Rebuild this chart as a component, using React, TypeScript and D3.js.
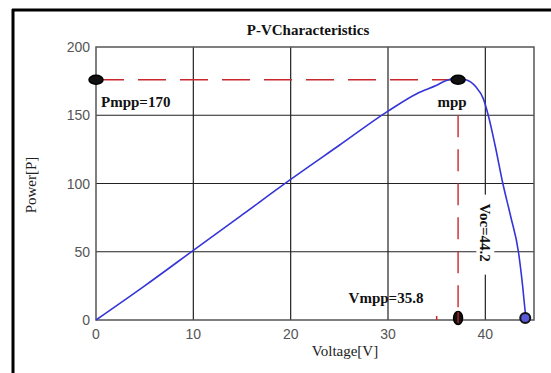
import { useRef, useEffect } from "react";
import * as d3 from "d3";

// P-V curve
const voltage = [0, 5, 10, 15, 20, 25, 30, 33, 35, 36, 37, 38, 39, 39.8, 40.3, 41, 41.8, 42.6, 43.4, 43.8, 44.1, 44.2];
const power = [0, 25, 51, 77, 103, 128, 153, 166, 172, 175.5, 177, 176, 171, 162, 150, 128, 100, 76, 50, 27, 6, 0];

const xTicks = [0, 10, 20, 30, 40];
const yTicks = [0, 50, 100, 150, 200];
const gridX = [10, 20, 30, 40];
const gridY = [50, 100, 150];

const mppV = 37.2;
const mppP = 176;
const vocV = 44.1;

export default function App() {
  const svgRef = useRef<SVGSVGElement>(null);

  useEffect(() => {
    if (!svgRef.current) return;
    const svg = d3.select(svgRef.current);
    svg.selectAll("*").remove();

    const width = 551;
    const height = 373;
    const margin = { top: 47, right: 17, bottom: 53, left: 96 };

    const x = d3.scaleLinear().domain([0, 45]).range([margin.left, width - margin.right]);
    const y = d3.scaleLinear().domain([0, 200]).range([height - margin.bottom, margin.top]);

    svg.append("rect").attr("width", width).attr("height", height).attr("fill", "#fff");

    // outer frame (left + top thick)
    svg.append("line").attr("x1", 13).attr("x2", 13).attr("y1", 9).attr("y2", height)
      .attr("stroke", "#000").attr("stroke-width", 3);
    svg.append("line").attr("x1", 12).attr("x2", width).attr("y1", 10).attr("y2", 10)
      .attr("stroke", "#000").attr("stroke-width", 3);

    const g = svg.append("g");

    // grid
    gridX.forEach((v) => {
      g.append("line").attr("x1", x(v)).attr("x2", x(v)).attr("y1", y(200)).attr("y2", y(0))
        .attr("stroke", "#222").attr("stroke-width", 1.2);
    });
    gridY.forEach((v) => {
      g.append("line").attr("x1", x(0)).attr("x2", x(45)).attr("y1", y(v)).attr("y2", y(v))
        .attr("stroke", "#222").attr("stroke-width", 1.2);
    });

    // plot box
    g.append("rect").attr("x", x(0)).attr("y", y(200))
      .attr("width", x(45) - x(0)).attr("height", y(0) - y(200))
      .attr("fill", "none").attr("stroke", "#555").attr("stroke-width", 1.5);

    // tick labels
    xTicks.forEach((v) => {
      g.append("text").attr("x", x(v)).attr("y", y(0) + 19).attr("text-anchor", "middle")
        .attr("font-family", "Liberation Sans, Arial, sans-serif").attr("font-size", 14)
        .attr("fill", "#555").text(v);
    });
    yTicks.forEach((v) => {
      g.append("text").attr("x", x(0) - 6).attr("y", y(v) + 5).attr("text-anchor", "end")
        .attr("font-family", "Liberation Sans, Arial, sans-serif").attr("font-size", 14)
        .attr("fill", "#555").text(v);
    });

    // red dashed guides
    g.append("line").attr("x1", x(0)).attr("x2", x(mppV)).attr("y1", y(mppP)).attr("y2", y(mppP))
      .attr("stroke", "#c8282e").attr("stroke-width", 1.4).attr("stroke-dasharray", "28,14");
    g.append("line").attr("x1", x(mppV)).attr("x2", x(mppV)).attr("y1", y(150)).attr("y2", y(0))
      .attr("stroke", "#c8282e").attr("stroke-width", 1.4).attr("stroke-dasharray", "22,12");
    g.append("line").attr("x1", x(35)).attr("x2", x(35)).attr("y1", y(0) - 4).attr("y2", y(0))
      .attr("stroke", "#c8282e").attr("stroke-width", 1.5);

    // Voc label with white background
    const vocX = x(40);
    const vocY = y(64);
    g.append("rect").attr("x", vocX - 9).attr("y", vocY - 38).attr("width", 18).attr("height", 80)
      .attr("fill", "#fff");
    g.append("text")
      .attr("transform", `translate(${vocX - 5},${vocY}) rotate(90)`)
      .attr("text-anchor", "middle")
      .attr("font-family", "Liberation Serif, Times New Roman, serif")
      .attr("font-weight", "bold").attr("font-size", 15).attr("fill", "#111")
      .text("Voc=44.2");

    // curve
    const pts = voltage.map((v, i) => [v, power[i]] as [number, number]);
    g.append("path").datum(pts)
      .attr("d", d3.line<[number, number]>().x((d) => x(d[0])).y((d) => y(d[1])).curve(d3.curveMonotoneX))
      .attr("fill", "none").attr("stroke", "#3535d8").attr("stroke-width", 1.6);

    // markers
    const blob = (cx: number, cy: number, rx: number, ry: number, fill: string) => {
      g.append("ellipse").attr("cx", cx).attr("cy", cy).attr("rx", rx).attr("ry", ry)
        .attr("fill", fill).attr("stroke", "#000").attr("stroke-width", 1.5);
    };
    blob(x(0), y(mppP), 7, 4.5, "#111");
    blob(x(mppV), y(mppP), 7, 4.5, "#111");
    blob(x(mppV), y(0) - 2, 4.5, 6.5, "#111");
    g.append("line").attr("x1", x(mppV)).attr("x2", x(mppV)).attr("y1", y(0) - 8).attr("y2", y(0) + 3)
      .attr("stroke", "#c8282e").attr("stroke-width", 1.2);
    g.append("circle").attr("cx", x(vocV)).attr("cy", y(0) - 2).attr("r", 5)
      .attr("fill", "#5a5ad8").attr("stroke", "#111").attr("stroke-width", 2);

    // annotations
    const bold = (t: string, tx: number, ty: number, anchor = "start") => {
      g.append("text").attr("x", tx).attr("y", ty).attr("text-anchor", anchor)
        .attr("font-family", "Liberation Serif, Times New Roman, serif")
        .attr("font-weight", "bold").attr("font-size", 15).attr("fill", "#111").text(t);
    };
    bold("Pmpp=170", 101, 107);
    bold("mpp", 452, 107, "middle");
    bold("Vmpp=35.8", 386, 303, "middle");

    // title
    svg.append("text").attr("x", 308).attr("y", 35).attr("text-anchor", "middle")
      .attr("font-family", "Liberation Serif, Times New Roman, serif")
      .attr("font-weight", "bold").attr("font-size", 15).attr("fill", "#111")
      .text("P-VCharacteristics");

    // axis labels
    svg.append("text").attr("x", 345).attr("y", 356).attr("text-anchor", "middle")
      .attr("font-family", "Liberation Serif, Times New Roman, serif")
      .attr("font-size", 15).attr("fill", "#222").text("Voltage[V]");
    svg.append("text").attr("transform", "translate(36,185) rotate(-90)").attr("text-anchor", "middle")
      .attr("font-family", "Liberation Serif, Times New Roman, serif")
      .attr("font-size", 15).attr("fill", "#222").text("Power[P]");
  }, []);

  return (
    <div style={{ position: "absolute", left: 0, top: 0 }}>
      <svg ref={svgRef} width={551} height={373} style={{ display: "block" }} />
    </div>
  );
}
